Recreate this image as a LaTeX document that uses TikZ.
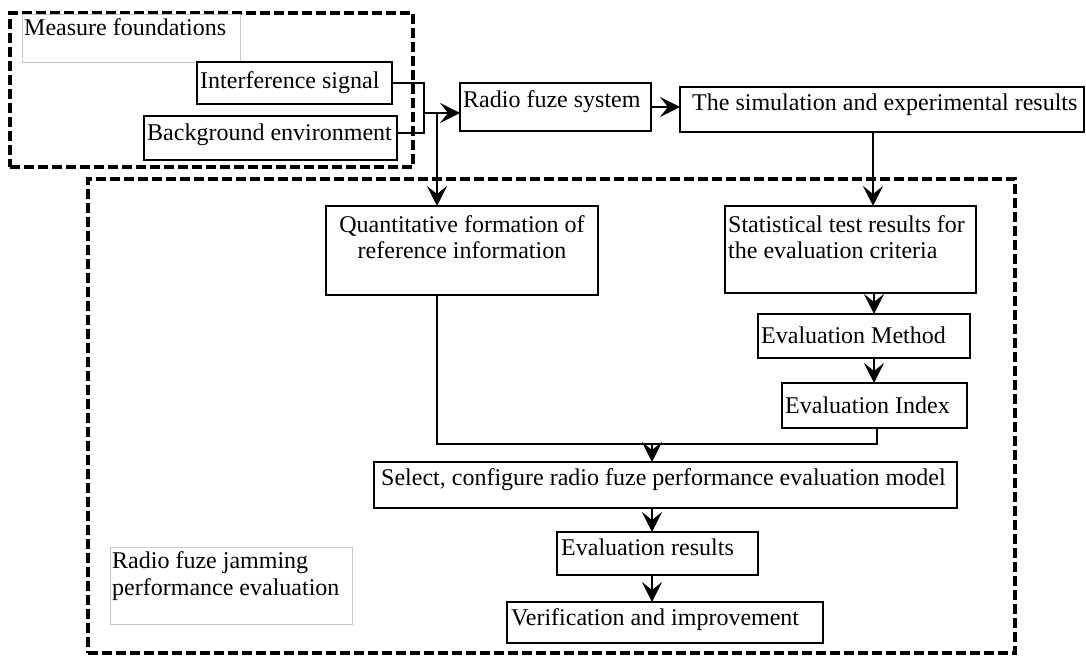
\documentclass[tikz,border=0pt]{standalone}
\usepackage{fontspec}
\setmainfont{Liberation Serif}
\usetikzlibrary{arrows.meta}
\begin{document}
\begin{tikzpicture}[x=1pt,y=-1pt,
  box/.style={draw, line width=2pt, inner sep=0pt, outer sep=0pt, anchor=north west},
  tag/.style={draw=black!22, line width=0.8pt, inner sep=0pt, outer sep=0pt, anchor=north west},
  grp/.style={draw, line width=3.5pt, dash pattern=on 10pt off 4pt, inner sep=0pt, outer sep=0pt, anchor=north west},
  txt/.style={inner sep=0pt, anchor=base west, font=\fontsize{24}{27}\selectfont},
  ctxt/.style={txt, anchor=base},
  link/.style={line width=2pt},
  flow/.style={link, -{Stealth[length=20pt, width=20pt, inset=8pt]}}]
\useasboundingbox (0,0) rectangle (1086,656);

% dashed group frames
\node[grp, minimum width=403, minimum height=154] (gmeas) at (10,13) {};
\node[grp, minimum width=927, minimum height=474] (geval) at (88,179) {};

% caption boxes of the groups
\node[tag, minimum width=218, minimum height=48] (tmeas) at (22,14) {};
\node[txt] (lmeas) at (24,35) {Measure foundations};
\node[tag, minimum width=242, minimum height=77] (teval) at (110,547) {};
\node[txt] (leval1) at (112,568) {Radio fuze jamming};
\node[txt] (leval2) at (112,595) {performance evaluation};

% process boxes
\node[box, minimum width=195, minimum height=42] (intf) at (197,62) {};
\node[txt] (lintf) at (200,88) {Interference signal};
\node[box, minimum width=253, minimum height=44] (bg) at (144,116) {};
\node[txt] (lbg) at (147,140) {Background environment};
\node[box, minimum width=191, minimum height=48] (rf) at (460,83) {};
\node[txt] (lrf) at (463,107) {Radio fuze system};
\node[box, minimum width=404, minimum height=45] (sim) at (680,87) {};
\node[txt] (lsim) at (692,110) {The simulation and experimental results};
\node[box, minimum width=272, minimum height=89] (quant) at (326,206) {};
\node[ctxt] (lquant1) at (462,232) {Quantitative formation of};
\node[ctxt] (lquant2) at (462,258) {reference information};
\node[box, minimum width=251, minimum height=87] (stat) at (725,206) {};
\node[txt] (lstat1) at (728,232) {Statistical test results for};
\node[txt] (lstat2) at (728,258) {the evaluation criteria};
\node[box, minimum width=212, minimum height=44] (em) at (758,314) {};
\node[txt] (lem) at (761,343) {Evaluation Method};
\node[box, minimum width=185, minimum height=45] (ei) at (782,383) {};
\node[txt] (lei) at (785,413) {Evaluation Index};
\node[box, minimum width=583, minimum height=46] (sel) at (374,462) {};
\node[txt] (lsel) at (381,485) {Select, configure radio fuze performance evaluation model};
\node[box, minimum width=201, minimum height=43] (er) at (557,532) {};
\node[txt] (ler) at (561,555) {Evaluation results};
\node[box, minimum width=316, minimum height=41] (ver) at (507,602) {};
\node[txt] (lver) at (511,625) {Verification and improvement};

% junction points of the connectors
\coordinate (split) at (424,113);
\coordinate (tap) at (437,113);
\coordinate (scol) at (873,0);
\coordinate (rcol) at (874,0);
\coordinate (merge) at (652,444);

% connectors
\draw[link] (intf.east) -| (split) |- ([yshift=5pt]bg.east);
\draw[flow] (split) -- (split -| rf.west);
\draw[flow] (tap) -- (tap |- quant.north);
\draw[flow] (rf.east) -- (rf.east -| sim.west);
\draw[flow] (sim.south -| scol) -- (stat.north -| scol);
\draw[flow] (stat.south -| rcol) -- (em.north -| rcol);
\draw[flow] (em.south -| rcol) -- (ei.north -| rcol);
\draw[link] (quant.south -| tap) |- (merge);
\draw[link] ([xshift=3pt]ei.south -| rcol) |- (merge);
\draw[flow] (merge) -- (merge |- sel.north);
\draw[flow] (sel.south -| merge) -- (er.north -| merge);
\draw[flow] (er.south -| merge) -- (ver.north -| merge);
\end{tikzpicture}
\end{document}
